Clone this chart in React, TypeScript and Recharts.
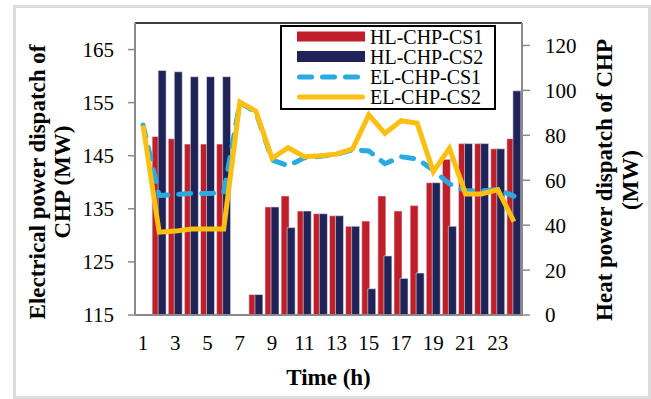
import React from 'react';
import { ComposedChart, Bar, Line, XAxis, YAxis, Legend, ReferenceLine, Label } from 'recharts';

// Hour of the day
const hours = [1, 2, 3, 4, 5, 6, 7, 8, 9, 10, 11, 12, 13, 14, 15, 16, 17, 18, 19, 20, 21, 22, 23, 24];

// Heat power dispatch of CHP (MW), right axis
const heatCS1 = [null, 79.5, 78.5, 76.1, 76.1, 76.1, null, 9.1, 48.1, 53.0, 46.3, 45.1, 44.2, 39.5, 41.8, 53.0, 46.3, 48.7, 58.9, 69.3, 76.3, 76.3, 74.0, 78.5];
const heatCS2 = [null, 108.9, 108.3, 106.1, 106.1, 106.1, null, 9.1, 48.1, 38.9, 46.3, 45.1, 44.2, 39.5, 11.7, 26.3, 16.3, 18.7, 58.9, 39.5, 76.3, 76.3, 74.0, 99.8];

// Electrical power dispatch of CHP (MW), left axis
const elecCS1 = [150.8, 137.5, 137.7, 137.9, 137.9, 138.0, 155.0, 153.2, 144.2, 143.1, 144.6, 144.9, 145.3, 146.1, 145.9, 143.5, 144.8, 144.4, 142.3, 139.7, 138.4, 138.4, 138.6, 137.4];
const elecCS2 = [150.7, 130.6, 130.8, 131.2, 131.2, 131.2, 155.1, 153.4, 144.5, 146.5, 144.8, 145.0, 145.3, 146.3, 152.7, 149.2, 151.6, 151.1, 142.0, 146.4, 137.8, 137.8, 138.6, 132.6];

const leftTicks = [115, 125, 135, 145, 155, 165];
const rightTicks = [0, 20, 40, 60, 80, 100, 120];

const seriesNames = ['HL-CHP-CS1', 'HL-CHP-CS2', 'EL-CHP-CS1', 'EL-CHP-CS2'];

const data = hours.map((h, i) => ({
  hour: h,
  hlCS1: heatCS1[i],
  hlCS2: heatCS2[i],
  elCS1: elecCS1[i],
  elCS2: elecCS2[i],
}));

const SERIF = '"Liberation Serif", "Times New Roman", serif';
const RED = '#C01F2A';
const NAVY = '#1F2357';
const SKY = '#29ABE2';
const GOLD = '#FDBF12';
const AXIS = '#8a8a8a';

const tickStyle = { fontFamily: SERIF, fontSize: 21, fill: '#000' };

const LegendBox = () => {
  const rows = [11.5, 31.5, 52, 72];
  return (
    <svg width={216} height={85} style={{ display: 'block' }}>
      <rect x={1} y={1} width={214} height={83} fill="#fff" stroke="#000" strokeWidth={2} />
      <rect x={17} y={rows[0] - 5} width={68} height={10} fill={RED} />
      <rect x={17} y={rows[1] - 5.5} width={68} height={11} fill={NAVY} />
      <line x1={19.5} x2={82.5} y1={rows[2]} y2={rows[2]} stroke={SKY} strokeWidth={5} strokeLinecap="round" strokeDasharray="12 11" />
      <line x1={19.5} x2={82.5} y1={rows[3]} y2={rows[3]} stroke={GOLD} strokeWidth={5} strokeLinecap="round" />
      {seriesNames.map((n, i) => (
        <text key={n} x={90} y={rows[i]} dy="0.35em" fontFamily={SERIF} fontSize={20} fill="#000">
          {n}
        </text>
      ))}
    </svg>
  );
};

const LeftTitle = () => (
  <g fontFamily={SERIF} fontSize={23} fontWeight="bold" fill="#000">
    <text transform="translate(37,182) rotate(-90)" textAnchor="middle" dy="0.35em">Electrical power dispatch of</text>
    <text transform="translate(62,182) rotate(-90)" textAnchor="middle" dy="0.35em">CHP (MW)</text>
  </g>
);

const RightTitle = () => (
  <g fontFamily={SERIF} fontSize={23} fontWeight="bold" fill="#000">
    <text transform="translate(604,180) rotate(-90)" textAnchor="middle" dy="0.35em">Heat power dispatch of CHP</text>
    <text transform="translate(630,180) rotate(-90)" textAnchor="middle" dy="0.35em">(MW)</text>
  </g>
);

const BottomTitle = () => (
  <text x={328.5} y={377} dy="0.35em" textAnchor="middle" fontFamily={SERIF} fontSize={23} fontWeight="bold" fill="#000">
    Time (h)
  </text>
);

export default function App() {
  return (
    <div style={{ position: 'fixed', left: 0, top: 0, width: 651, height: 399, background: '#fff', overflow: 'hidden' }}>
      <div
        style={{
          position: 'absolute',
          left: 13,
          top: 5,
          width: 638,
          height: 394,
          border: '3px solid #dcdcdc',
          boxSizing: 'border-box',
        }}
      />
      <div style={{ position: 'absolute', left: 0, top: 0 }}>
        <ComposedChart
          width={651}
          height={399}
          data={data}
          margin={{ top: 23, right: 0, bottom: 0, left: 0 }}
          barGap={-2}
          barCategoryGap={1}
        >
          <XAxis
            dataKey="hour"
            xAxisId="x"
            interval={1}
            height={84}
            tickLine={false}
            tickSize={0}
            tickMargin={20}
            axisLine={{ stroke: AXIS, strokeWidth: 2 }}
            tick={tickStyle}
          >
            <Label content={BottomTitle} />
          </XAxis>
          <YAxis
            yAxisId="left"
            orientation="left"
            width={135}
            domain={[115, 170]}
            ticks={leftTicks}
            allowDataOverflow
            tickSize={7}
            tickMargin={14}
            axisLine={{ stroke: AXIS, strokeWidth: 2 }}
            tickLine={{ stroke: AXIS, strokeWidth: 1.5 }}
            tick={tickStyle}
          >
            <Label content={LeftTitle} />
          </YAxis>
          <YAxis
            yAxisId="right"
            orientation="right"
            width={129}
            domain={[0, 130]}
            ticks={rightTicks}
            allowDataOverflow
            tickSize={8}
            tickMargin={15}
            axisLine={{ stroke: AXIS, strokeWidth: 2 }}
            tickLine={{ stroke: AXIS, strokeWidth: 1.5 }}
            tick={tickStyle}
          >
            <Label content={RightTitle} />
          </YAxis>
          <ReferenceLine xAxisId="x" yAxisId="left" y={170} stroke="#000" strokeWidth={1.5} />
          <Bar
            xAxisId="x"
            yAxisId="right"
            dataKey="hlCS1"
            name={seriesNames[0]}
            fill={RED}
            stroke="#ece8f0"
            strokeWidth={0.6}
            barSize={8}
            isAnimationActive={false}
          />
          <Bar
            xAxisId="x"
            yAxisId="right"
            dataKey="hlCS2"
            name={seriesNames[1]}
            fill={NAVY}
            stroke="#ece8f0"
            strokeWidth={0.6}
            barSize={8}
            isAnimationActive={false}
          />
          <Line
            xAxisId="x"
            yAxisId="left"
            type="linear"
            dataKey="elCS1"
            name={seriesNames[2]}
            stroke={SKY}
            strokeWidth={5}
            strokeDasharray="12 11"
            strokeLinecap="round"
            dot={false}
            activeDot={false}
            isAnimationActive={false}
          />
          <Line
            xAxisId="x"
            yAxisId="left"
            type="linear"
            dataKey="elCS2"
            name={seriesNames[3]}
            stroke={GOLD}
            strokeWidth={5}
            dot={false}
            activeDot={false}
            isAnimationActive={false}
          />
          <Legend
            layout="vertical"
            align="center"
            verticalAlign="middle"
            wrapperStyle={{ left: 280, top: 25, width: 216, height: 85, margin: 0, padding: 0 }}
            content={<LegendBox />}
          />
        </ComposedChart>
      </div>
    </div>
  );
}
